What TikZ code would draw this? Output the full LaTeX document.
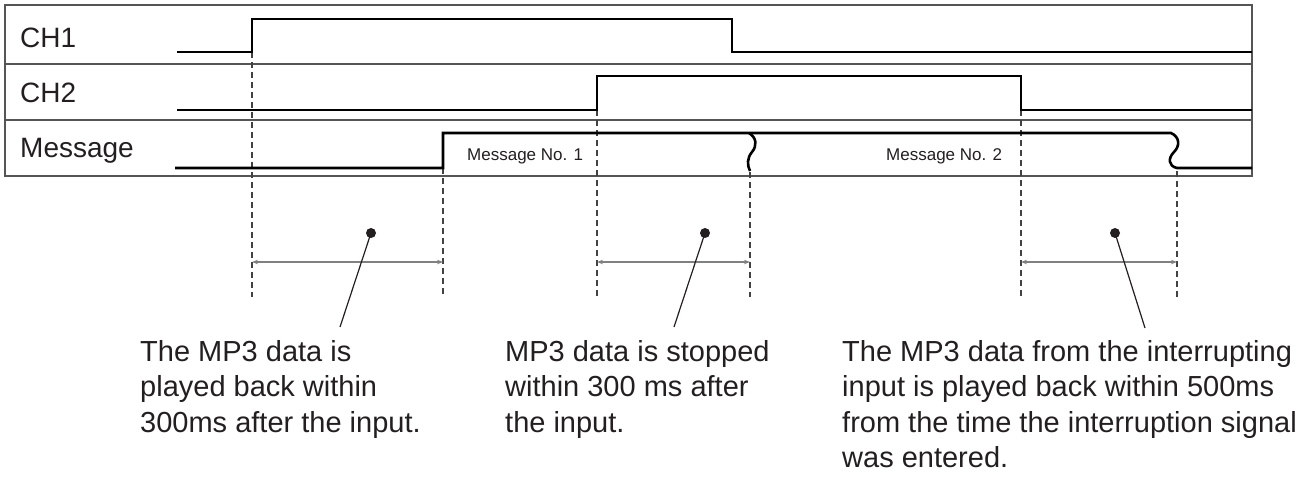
\documentclass[tikz,border=0pt]{standalone}
\usepackage{fontspec}
\setmainfont{Liberation Sans}
\usetikzlibrary{arrows.meta}
\definecolor{txt}{HTML}{231F20}
\definecolor{frm}{HTML}{555555}
\definecolor{dim}{HTML}{808080}
\begin{document}
\begin{tikzpicture}[x=1pt,y=-1pt,
  frame/.style={draw=frm,line width=1.3pt},
  signal/.style={draw=black,line width=2.6pt,line join=miter},
  guide/.style={draw=txt!85,line width=1.2pt,dash pattern=on 6pt off 4pt},
  span/.style={draw=dim,line width=1.1pt,{Stealth[length=6pt,width=4.5pt]}-{Stealth[length=6pt,width=4.5pt]}},
  lead/.style={draw=txt,line width=1.2pt},
  rowlabel/.style={anchor=base west,inner sep=0pt,text=txt,font=\fontsize{28}{33}\selectfont},
  msglabel/.style={anchor=base west,inner sep=0pt,text=txt,font=\fontsize{17}{20}\selectfont},
  note/.style={anchor=base west,inner sep=0pt,text=txt,align=left,font=\fontsize{29}{35.5}\selectfont},
  dotmark/.style={circle,fill=txt,inner sep=0pt,minimum size=10pt}]
\useasboundingbox (0,0) rectangle (1310,479);
% frame
\draw[frame] (5,5) rectangle (1252,176);
\draw[frame] (5,64) -- (1252,64);
\draw[frame] (5,120) -- (1252,120);
% row labels
\node[rowlabel] (l1) at (20,47) {CH1};
\node[rowlabel] (l2) at (20,102) {CH2};
\node[rowlabel] (l3) at (20,157) {Message};
% guide coordinates
\coordinate (a1) at (252,52);  \coordinate (a2) at (252,297);
\coordinate (b1) at (443,168); \coordinate (b2) at (443,297);
\coordinate (c1) at (597,110); \coordinate (c2) at (597,297);
\coordinate (d1) at (750,172); \coordinate (d2) at (750,297);
\coordinate (e1) at (1021,110); \coordinate (e2) at (1021,297);
\coordinate (f1) at (1177,171); \coordinate (f2) at (1177,297);
\draw[guide] (a1) -- (a2);
\draw[guide] (b1) -- (b2);
\draw[guide] (c1) -- (c2);
\draw[guide] (d1) -- (d2);
\draw[guide] (e1) -- (e2);
\draw[guide] (f1) -- (f2);
% signals
\draw[signal] (177,52) -- (252,52) -- (252,19) -- (732,19) -- (732,52) -- (1252,52);
\draw[signal] (177,110) -- (597,110) -- (597,76) -- (1021,76) -- (1021,110) -- (1252,110);
\draw[signal] (175,168) -- (443,168) -- (443,133) -- (1171,133)
  .. controls (1180,137) and (1180,146) .. (1174,152)
  .. controls (1168,158) and (1168,166) .. (1177,168) -- (1252,168);
\draw[signal] (749,133) .. controls (757,138) and (757,146) .. (752,152)
  .. controls (747,158) and (747,165) .. (750,171);
% message labels
\node[msglabel] (m1) at (467,160) {Message No. 1};
\node[msglabel] (m2) at (886,160) {Message No. 2};
% spans
\coordinate (s1a) at (252,262); \coordinate (s1b) at (443,262);
\coordinate (s2a) at (597,262); \coordinate (s2b) at (750,262);
\coordinate (s3a) at (1021,262); \coordinate (s3b) at (1177,262);
\draw[span] (s1a) -- (s1b);
\draw[span] (s2a) -- (s2b);
\draw[span] (s3a) -- (s3b);
% dots and leaders
\node[dotmark] (p1) at (371,233) {};
\node[dotmark] (p2) at (705,233) {};
\node[dotmark] (p3) at (1115,233) {};
\coordinate (q1) at (340,327);
\coordinate (q2) at (674,327);
\coordinate (q3) at (1145,328);
\draw[lead] (p1.center) -- (q1);
\draw[lead] (p2.center) -- (q2);
\draw[lead] (p3.center) -- (q3);
% notes (anchor = baseline of last line)
\node[note] (n1) at (140,432) {The MP3 data is\\played back within\\300ms after the input.};
\node[note] (n2) at (505,432) {MP3 data is stopped\\within 300 ms after\\the input.};
\node[note] (n3) at (842,467.5) {The MP3 data from the interrupting\\input is played back within 500ms\\from the time the interruption signal\\was entered.};
\end{tikzpicture}
\end{document}
